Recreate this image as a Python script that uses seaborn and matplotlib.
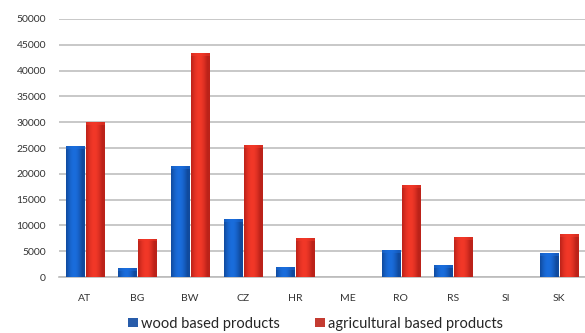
import numpy as np
import pandas as pd
import matplotlib
matplotlib.use("Agg")
import matplotlib.pyplot as plt
import seaborn as sns
from matplotlib.colors import LinearSegmentedColormap

countries = ["AT", "BG", "BW", "CZ", "HR", "ME", "RO", "RS", "SI", "SK"]
wood = [25400, 1700, 21500, 11200, 1900, 0, 5200, 2300, 0, 4600]
agri = [30000, 7400, 43400, 25600, 7500, 0, 17800, 7700, 0, 8300]
series = ["wood based products", "agricultural based products"]
yticks = [0, 5000, 10000, 15000, 20000, 25000, 30000, 35000, 40000, 45000, 50000]

df = pd.DataFrame({
    "country": countries * 2,
    "value": wood + agri,
    "series": [series[0]] * len(countries) + [series[1]] * len(countries),
})

sns.set_theme(style="white")
plt.rcParams["font.family"] = ["Lato", "DejaVu Sans"]

fig = plt.figure(figsize=(5.85, 3.33), dpi=100)
ax = fig.add_axes([0.1, 0.168, 0.9, 0.775])

palette = {series[0]: "#1258c0", series[1]: "#dc2618"}
sns.barplot(data=df, x="country", y="value", hue="series", palette=palette,
            width=0.76, gap=0.1, ax=ax, legend=True, linewidth=0, zorder=3)

# shaded cylinder-like fill for each bar
grad = np.linspace(0, 1, 64)
shape = 0.5 + 0.5 * np.sin(np.pi * np.clip(grad * 1.15, 0, 1))
cmaps = {
    series[0]: LinearSegmentedColormap.from_list("b", ["#06275f", "#1a6ddc"]),
    series[1]: LinearSegmentedColormap.from_list("r", ["#840c0a", "#f23828"]),
}
for container, name in zip(ax.containers, series):
    for patch in container.patches:
        x0, y0 = patch.get_x(), patch.get_y()
        w, h = patch.get_width(), patch.get_height()
        if h <= 0:
            continue
        im = ax.imshow(shape[np.newaxis, :], cmap=cmaps[name], vmin=0, vmax=1,
                       extent=[x0, x0 + w, y0, y0 + h], aspect="auto",
                       origin="lower", zorder=4)
        im.set_clip_path(patch)
        cap = min(500, h)
        im2 = ax.imshow(shape[np.newaxis, :] * 0.5 + 0.5, cmap=cmaps[name], vmin=0, vmax=1,
                        extent=[x0, x0 + w, y0 + h - cap, y0 + h], aspect="auto",
                        origin="lower", zorder=5)
        im2.set_clip_path(patch)

ax.set_xlim(-0.5, len(countries) - 0.5)
ax.set_ylim(0, 50000)
ax.set_yticks(yticks)
ax.set_yticklabels([str(v) for v in yticks])
ax.yaxis.grid(True, color="#c4c4c4", linewidth=1.3, zorder=0)
ax.set_axisbelow(True)
ax.set_xlabel("")
ax.set_ylabel("")
ax.tick_params(axis="both", length=0, labelsize=7.5, labelcolor="#333333")
ax.tick_params(axis="y", pad=9)
ax.tick_params(axis="x", pad=12)
for side in ["top", "right", "left"]:
    ax.spines[side].set_visible(False)
ax.spines["bottom"].set_color("#bbbbbb")
ax.spines["bottom"].set_linewidth(1.2)

handles, labels = ax.get_legend_handles_labels()
ax.legend_.remove()
fig.legend(handles, labels, loc="center", bbox_to_anchor=(0.54, 0.028), ncol=2,
           frameon=False, fontsize=10.5, handlelength=0.65, handleheight=0.65,
           handletextpad=0.25, columnspacing=2.4)

fig.savefig("out.png", dpi=100)
